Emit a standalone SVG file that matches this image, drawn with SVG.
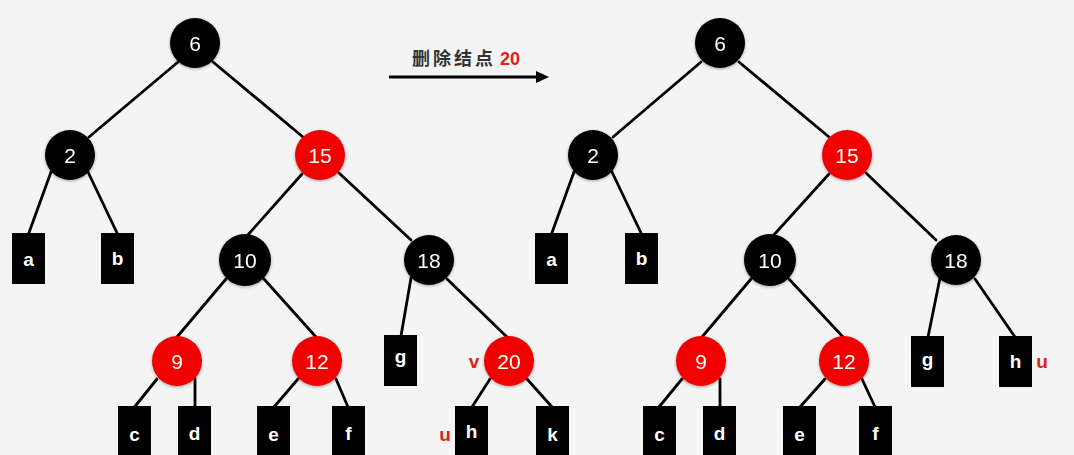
<svg xmlns="http://www.w3.org/2000/svg" width="1074" height="455" viewBox="0 0 1074 455">
<defs>
<style>
.bg{fill:#f4f4f4}
.edge{stroke:#000;stroke-width:2.8;stroke-linecap:round;fill:none}
.blk{fill:#000}
.red{fill:#f20000}
.leaf{fill:#000}
.num{fill:#fff;font-family:"Liberation Sans","Noto Sans",sans-serif;font-size:21px;text-anchor:middle}
.lt{fill:#fff;font-family:"Liberation Sans","Noto Sans",sans-serif;font-size:19px;font-weight:bold;text-anchor:middle}
.tag{fill:#e02020;font-family:"Liberation Sans","Noto Sans",sans-serif;font-size:19px;font-weight:bold;text-anchor:middle}
.title{fill:#333;font-family:"Liberation Sans","Noto Sans CJK SC",sans-serif;font-size:18px;font-weight:bold}
</style>
<filter id="sh" x="-30%" y="-30%" width="160%" height="160%">
<feGaussianBlur in="SourceAlpha" stdDeviation="1.5" result="b"/>
<feOffset dy="1" result="o"/>
<feComponentTransfer><feFuncA type="linear" slope="0.35"/></feComponentTransfer>
<feMerge><feMergeNode/><feMergeNode in="SourceGraphic"/></feMerge>
</filter>
</defs>
<rect class="bg" x="0" y="0" width="1074" height="455"/>

<g id="connectors">
<!-- left tree -->
<line class="edge" x1="178" y1="62" x2="89" y2="137"/>
<line class="edge" x1="213" y1="62" x2="303" y2="137"/>
<line class="edge" x1="51" y1="172" x2="28.5" y2="234"/>
<line class="edge" x1="88" y1="172" x2="117.5" y2="234"/>
<line class="edge" x1="302" y1="174" x2="246" y2="237"/>
<line class="edge" x1="339" y1="173" x2="411" y2="240"/>
<line class="edge" x1="226" y1="279" x2="177" y2="337"/>
<line class="edge" x1="264" y1="279" x2="316" y2="337"/>
<line class="edge" x1="411" y1="278" x2="401" y2="336"/>
<line class="edge" x1="447" y1="279" x2="507" y2="337"/>
<line class="edge" x1="157" y1="379" x2="134.5" y2="407"/>
<line class="edge" x1="195" y1="379" x2="195" y2="407"/>
<line class="edge" x1="298" y1="379" x2="274" y2="407"/>
<line class="edge" x1="336" y1="379" x2="348" y2="407"/>
<line class="edge" x1="490" y1="379" x2="472" y2="407"/>
<line class="edge" x1="527" y1="379" x2="552" y2="407"/>
<!-- arrow -->
<line x1="389" y1="77" x2="539" y2="77" stroke="#000" stroke-width="3"/>
<polygon points="536,71 549,77 536,83" fill="#000"/>
<!-- right tree -->
<line class="edge" x1="701" y1="62" x2="613" y2="137"/>
<line class="edge" x1="739" y1="62" x2="829" y2="137"/>
<line class="edge" x1="574" y1="172" x2="551.5" y2="234"/>
<line class="edge" x1="612" y1="172" x2="641.5" y2="234"/>
<line class="edge" x1="829" y1="174" x2="772" y2="237"/>
<line class="edge" x1="866" y1="173" x2="936" y2="240"/>
<line class="edge" x1="751" y1="279" x2="702" y2="337"/>
<line class="edge" x1="789" y1="279" x2="843" y2="337"/>
<line class="edge" x1="940" y1="278" x2="928" y2="337"/>
<line class="edge" x1="975" y1="279" x2="1015" y2="337"/>
<line class="edge" x1="682" y1="379" x2="659" y2="407"/>
<line class="edge" x1="720" y1="379" x2="720" y2="407"/>
<line class="edge" x1="825" y1="379" x2="800" y2="407"/>
<line class="edge" x1="862" y1="379" x2="875" y2="407"/>
</g>

<g id="label-delete">
<text class="title" x="412" y="65"><tspan letter-spacing="3">删除结点</tspan><tspan dx="4" fill="#e02020">20</tspan></text>
</g>

<!-- left tree nodes -->
<g id="L6" filter="url(#sh)"><circle class="blk" cx="195" cy="43" r="25"/><text class="num" x="195" y="50.5">6</text></g>
<g id="L2" filter="url(#sh)"><circle class="blk" cx="70" cy="155" r="25"/><text class="num" x="70" y="162.5">2</text></g>
<g id="L15" filter="url(#sh)"><circle class="red" cx="320" cy="155" r="25"/><text class="num" x="320" y="162.5">15</text></g>
<g id="La"><rect class="leaf" x="12" y="233" width="33" height="51"/><text class="lt" x="28.5" y="266">a</text></g>
<g id="Lb"><rect class="leaf" x="101" y="233" width="33" height="51"/><text class="lt" x="117.5" y="265">b</text></g>
<g id="L10" filter="url(#sh)"><circle class="blk" cx="245" cy="260" r="26"/><text class="num" x="245" y="267.5">10</text></g>
<g id="L18" filter="url(#sh)"><circle class="blk" cx="429" cy="260" r="25"/><text class="num" x="429" y="267.5">18</text></g>
<g id="L9" filter="url(#sh)"><circle class="red" cx="177" cy="361" r="25"/><text class="num" x="177" y="368.5">9</text></g>
<g id="L12" filter="url(#sh)"><circle class="red" cx="317" cy="361" r="25"/><text class="num" x="317" y="368.5">12</text></g>
<g id="Lg"><rect class="leaf" x="384" y="335" width="33" height="51"/><text class="lt" x="400.5" y="363">g</text></g>
<g id="L20" filter="url(#sh)"><circle class="red" cx="509" cy="361" r="25"/><text class="num" x="509" y="368.5">20</text></g>
<g id="Lv"><text class="tag" x="474" y="368">v</text></g>
<g id="Lc"><rect class="leaf" x="118" y="406" width="33" height="51"/><text class="lt" x="134.5" y="441">c</text></g>
<g id="Ld"><rect class="leaf" x="178" y="406" width="33" height="51"/><text class="lt" x="194.5" y="440">d</text></g>
<g id="Le"><rect class="leaf" x="257" y="406" width="33" height="51"/><text class="lt" x="273.5" y="441">e</text></g>
<g id="Lf"><rect class="leaf" x="332" y="406" width="33" height="51"/><text class="lt" x="348.5" y="440">f</text></g>
<g id="Lh"><rect class="leaf" x="455" y="406" width="33" height="51"/><text class="lt" x="471.5" y="438">h</text></g>
<g id="Lk"><rect class="leaf" x="536" y="406" width="33" height="51"/><text class="lt" x="552.5" y="441">k</text></g>
<g id="Lu"><text class="tag" x="445" y="441">u</text></g>

<!-- right tree nodes -->
<g id="R6" filter="url(#sh)"><circle class="blk" cx="720" cy="43" r="25"/><text class="num" x="720" y="50.5">6</text></g>
<g id="R2" filter="url(#sh)"><circle class="blk" cx="593" cy="155" r="25"/><text class="num" x="593" y="162.5">2</text></g>
<g id="R15" filter="url(#sh)"><circle class="red" cx="847" cy="155" r="25"/><text class="num" x="847" y="162.5">15</text></g>
<g id="Ra"><rect class="leaf" x="535" y="233" width="33" height="51"/><text class="lt" x="551.5" y="266">a</text></g>
<g id="Rb"><rect class="leaf" x="625" y="233" width="33" height="51"/><text class="lt" x="641.5" y="265">b</text></g>
<g id="R10" filter="url(#sh)"><circle class="blk" cx="770" cy="260" r="26"/><text class="num" x="770" y="267.5">10</text></g>
<g id="R18" filter="url(#sh)"><circle class="blk" cx="956" cy="260" r="25"/><text class="num" x="956" y="267.5">18</text></g>
<g id="R9" filter="url(#sh)"><circle class="red" cx="701" cy="361" r="25"/><text class="num" x="701" y="368.5">9</text></g>
<g id="R12" filter="url(#sh)"><circle class="red" cx="844" cy="361" r="25"/><text class="num" x="844" y="368.5">12</text></g>
<g id="Rg"><rect class="leaf" x="911" y="336" width="33" height="51"/><text class="lt" x="927.5" y="366">g</text></g>
<g id="Rh"><rect class="leaf" x="999" y="336" width="33" height="51"/><text class="lt" x="1015.5" y="368">h</text></g>
<g id="Ru"><text class="tag" x="1042" y="368">u</text></g>
<g id="Rc"><rect class="leaf" x="643" y="406" width="33" height="51"/><text class="lt" x="659.5" y="441">c</text></g>
<g id="Rd"><rect class="leaf" x="703" y="406" width="33" height="51"/><text class="lt" x="719.5" y="440">d</text></g>
<g id="Re"><rect class="leaf" x="783" y="406" width="33" height="51"/><text class="lt" x="799.5" y="441">e</text></g>
<g id="Rf"><rect class="leaf" x="859" y="406" width="33" height="51"/><text class="lt" x="875.5" y="440">f</text></g>
</svg>
